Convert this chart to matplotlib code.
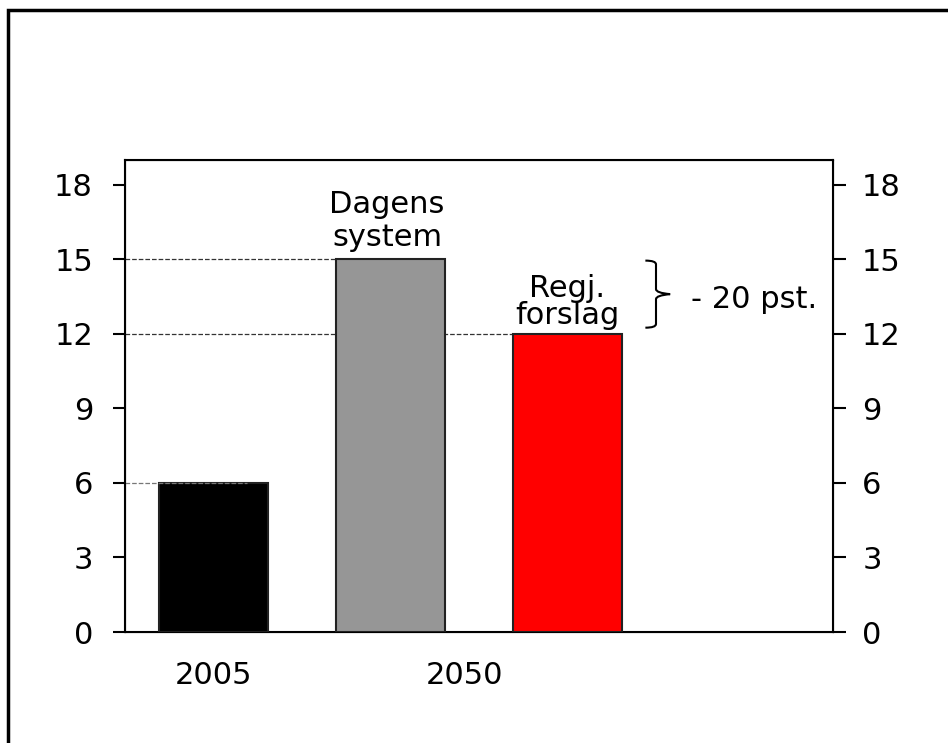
import matplotlib
matplotlib.use("Agg")
import matplotlib.pyplot as plt
from matplotlib.patches import Rectangle, PathPatch
from matplotlib.path import Path

categories = ["2005", "Dagens system", "Regj. forslag"]
values = [6, 15, 12]
colors = ["#000000", "#969696", "#ff0000"]
bar_labels = ["", "Dagens\nsystem", "Regj.\nforslag"]
year_labels = ["2005", "2050"]
yticks = [0, 3, 6, 9, 12, 15, 18]
annot = "- 20 pst."

plt.rcParams['font.family'] = ['DejaVu Sans']
FS = 22
fig = plt.figure(figsize=(9.48, 7.43), dpi=100)
ax = fig.add_axes([125/948, 1-632/743, (833-125)/948, (632-160)/743])

x = [0.5, 1.5, 2.5]
ax.bar(x, values, width=0.62, color=colors, edgecolor="#222222", linewidth=1.5, zorder=3)
ax.set_xlim(0, 4)
ax.set_ylim(0, 19)
ax.set_yticks(yticks)
ax.set_xticks([])
ax.tick_params(axis='y', direction='out', length=9, width=1.5, labelsize=FS, pad=14)
for s in ax.spines.values():
    s.set_linewidth(1.5)

ax2 = ax.twinx()
ax2.set_ylim(0, 19)
ax2.set_yticks(yticks)
ax2.tick_params(axis='y', direction='out', length=9, width=1.5, labelsize=FS, pad=12)

# dashed reference lines
ax.plot([0, x[0] + 0.19], [values[0]] * 2, ls='--', color='#777777', lw=0.9, zorder=4)
ax.plot([0, x[1] - 0.31], [values[1]] * 2, ls='--', color='#333333', lw=0.9, zorder=2)
ax.plot([0, x[2] - 0.31], [values[2]] * 2, ls='--', color='#333333', lw=0.9, zorder=2)

# bar labels
ax.text(x[1] - 0.02, 15.3, bar_labels[1], ha='center', va='bottom', fontsize=FS, linespacing=1.18)
ax.text(x[2], 12.15, bar_labels[2], ha='center', va='bottom', fontsize=FS, linespacing=0.93)

# year labels
ax.text(0.5, -1.75, year_labels[0], ha='center', va='center', fontsize=FS)
ax.text(1.92, -1.75, year_labels[1], ha='center', va='center', fontsize=FS)

# brace
x0, xm, xt = 2.94, 3.0, 3.08
y0, y1 = 14.95, 12.25
ym = (y0 + y1) / 2
verts = [(x0, y0), (xm, y0), (xm, y0 - 0.15), (xm, y0 - 0.4),
         (xm, ym + 0.2), (xm, ym + 0.05), (xt, ym),
         (xm, ym - 0.05), (xm, ym - 0.2), (xm, y1 + 0.4),
         (xm, y1 + 0.15), (xm, y1), (x0, y1)]
codes = [Path.MOVETO, Path.CURVE3, Path.CURVE3, Path.LINETO,
         Path.LINETO, Path.CURVE3, Path.CURVE3,
         Path.CURVE3, Path.CURVE3, Path.LINETO,
         Path.LINETO, Path.CURVE3, Path.CURVE3]
ax.add_patch(PathPatch(Path(verts, codes), fill=False, lw=1.5, color='black', clip_on=False))
ax.text(3.2, 13.4, annot, ha='left', va='center', fontsize=FS)

# outer frame
fig.patches.append(Rectangle((8/948, -0.02), 1.0, 1 - 10/743 + 0.02, transform=fig.transFigure,
                             fill=False, lw=2.5, edgecolor='black'))

fig.savefig("out.png", dpi=100)
